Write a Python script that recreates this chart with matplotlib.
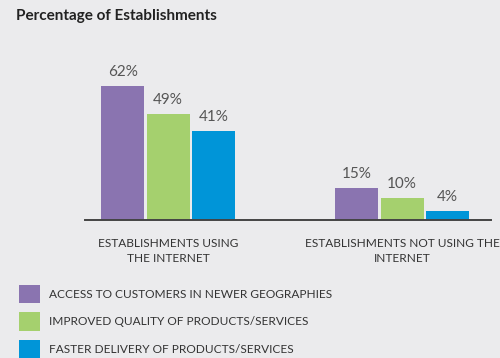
import matplotlib
matplotlib.use("Agg")
import matplotlib.pyplot as plt
import numpy as np

# data
groups = ["ESTABLISHMENTS USING\nTHE INTERNET", "ESTABLISHMENTS NOT USING THE\nINTERNET"]
series = [
    "ACCESS TO CUSTOMERS IN NEWER GEOGRAPHIES",
    "IMPROVED QUALITY OF PRODUCTS/SERVICES",
    "FASTER DELIVERY OF PRODUCTS/SERVICES",
]
values = [
    [62, 15],
    [49, 10],
    [41, 4],
]
colors = ["#8a74b0", "#a5d06e", "#0095d8"]

BG = "#ebebed"
plt.rcParams["font.family"] = ["Lato", "DejaVu Sans"]

fig = plt.figure(figsize=(5.0, 3.58), dpi=100, facecolor=BG)
ax = fig.add_axes([0.17, 1 - 220 / 358, 0.812, 160 / 358])
ax.set_facecolor(BG)

x = np.arange(len(groups))
width = 0.184
step = 0.194
handles = []
for i, (name, vals, col) in enumerate(zip(series, values, colors)):
    pos = x + (i - 1) * step
    b = ax.bar(pos, vals, width=width, color=col, label=name)
    handles.append(b)
    for p, v in zip(pos, vals):
        ax.text(p, v + 3.2, f"{v}%", ha="center", va="bottom",
                fontsize=11, color="#555555")

ax.set_xlim(-0.355, 1.38)
ax.set_ylim(0, 74)
ax.set_yticks([])
ax.set_xticks(x)
ax.set_xticklabels(groups, fontsize=8.6, color="#333333", linespacing=1.45)
ax.tick_params(axis="x", length=0, pad=13)
for s in ["top", "right", "left"]:
    ax.spines[s].set_visible(False)
ax.spines["bottom"].set_color("#444444")
ax.spines["bottom"].set_linewidth(1.4)

fig.text(16 / 500, 1 - 16 / 358, "Percentage of Establishments",
         fontsize=11, fontweight="bold", color="#222222", va="center", ha="left")

fig.legend(handles=handles, labels=series, loc="upper left",
           bbox_to_anchor=(19 / 500, 1 - 285 / 358), frameon=False,
           fontsize=8.6, labelcolor="#333333", handlelength=1.75, handleheight=2.0,
           labelspacing=0.75, handletextpad=0.8, borderpad=0, borderaxespad=0)

fig.savefig("out.png", dpi=100, facecolor=BG)
